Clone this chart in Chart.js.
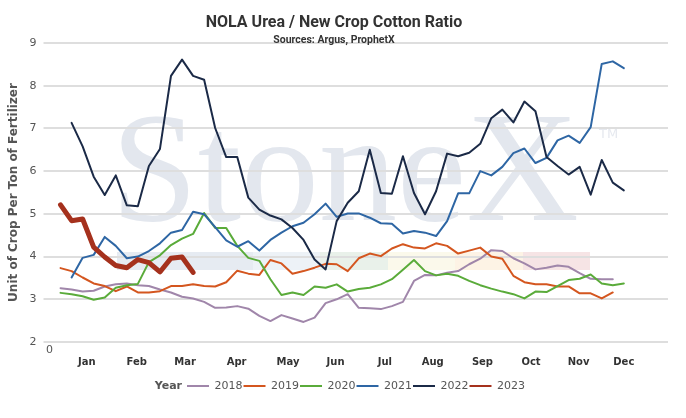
<!DOCTYPE html>
<html>
<head>
<meta charset="utf-8">
<script src="https://cdn.jsdelivr.net/npm/chart.js@4.4.1/dist/chart.umd.min.js"></script>
<style>
html,body{margin:0;padding:0;background:#fff;}
#wrap{width:686px;height:418px;}
</style>
</head>
<body>
<div id="wrap"><canvas id="c" width="686" height="418"></canvas></div>
<script>
// ---------- data ----------
const weeks = [1,2,3,4,5,6,7,8,9,10,11,12,13,14,15,16,17,18,19,20,21,22,23,24,25,26,
               27,28,29,30,31,32,33,34,35,36,37,38,39,40,41,42,43,44,45,46,47,48,49,50,51,52];
const monthLabels = ['Jan','Feb','Mar','Apr','May','Jun','Jul','Aug','Sep','Oct','Nov','Dec'];
const monthTickWeeks = [3.37, 7.89, 12.27, 16.94, 21.6, 25.9, 30.36, 34.7, 39.2, 43.6, 47.9, 52.0];
const yearLabels = ['2018','2019','2020','2021','2022','2023'];

const y2018 = [3.26,3.23,3.18,3.20,3.30,3.35,3.37,3.33,3.31,3.23,3.16,3.06,3.02,2.94,2.80,2.81,2.84,2.78,2.61,2.49,
               2.63,2.55,2.47,2.57,2.91,3.00,3.12,2.80,2.79,2.77,2.84,2.94,3.43,3.57,3.56,3.62,3.66,3.82,3.95,4.15,
               4.13,3.96,3.84,3.70,3.74,3.79,3.76,3.61,3.48,3.47,3.47,null];
const y2019 = [3.73,3.66,3.51,3.37,3.31,3.19,3.30,3.16,3.16,3.19,3.31,3.31,3.35,3.31,3.30,3.40,3.67,3.60,3.57,3.92,
               3.84,3.60,3.66,3.74,3.83,3.82,3.66,3.96,4.07,4.01,4.19,4.29,4.21,4.19,4.31,4.25,4.07,4.14,4.21,4.00,
               3.95,3.55,3.40,3.35,3.35,3.30,3.30,3.14,3.14,3.02,3.16,null];
const y2020 = [3.15,3.12,3.07,2.99,3.04,3.27,3.33,3.36,3.87,4.03,4.27,4.42,4.53,5.02,4.67,4.67,4.25,3.97,3.90,3.47,
               3.10,3.16,3.10,3.30,3.27,3.35,3.18,3.24,3.27,3.35,3.47,3.69,3.92,3.66,3.56,3.60,3.55,3.43,3.33,3.25,
               3.18,3.12,3.02,3.18,3.17,3.31,3.45,3.48,3.58,3.37,3.33,3.37];
const y2021 = [null,3.51,3.97,4.04,4.46,4.25,3.96,4.00,4.13,4.31,4.56,4.62,5.05,4.99,4.69,4.38,4.23,4.36,4.14,4.39,
               4.56,4.71,4.79,4.99,5.24,4.93,5.01,5.01,4.91,4.78,4.77,4.54,4.60,4.56,4.48,4.83,5.48,5.48,6.00,5.90,
               6.10,6.42,6.53,6.19,6.31,6.72,6.83,6.66,7.03,8.51,8.57,8.41];
const y2022 = [null,7.13,6.58,5.87,5.44,5.90,5.20,5.18,6.12,6.52,8.23,8.61,8.23,8.14,7.01,6.33,6.33,5.38,5.10,4.96,
               4.87,4.67,4.39,3.93,3.70,4.83,5.26,5.53,6.50,5.49,5.47,6.35,5.49,4.99,5.53,6.41,6.35,6.43,6.64,7.24,
               7.44,7.14,7.63,7.40,6.33,6.12,5.92,6.10,5.45,6.26,5.73,5.55];
const y2023 = [5.21,4.84,4.88,4.22,3.99,3.79,3.74,3.93,3.86,3.64,3.96,3.99,3.63];

const seriesValues = [y2018, y2019, y2020, y2021, y2022, y2023];
const seriesColors = ['#a086aa','#d4561f','#5aab3a','#2e66a4','#1b2a47','#a5311d'];
const seriesWidths = [2, 2, 2, 2, 2, 5];

// ---------- chart ----------
Chart.defaults.font.family = '"DejaVu Sans", sans-serif';
Chart.defaults.color = '#555';

const datasets = yearLabels.map((lbl, i) => ({
  label: lbl,
  data: seriesValues[i].map((v, k) => ({x: weeks[k], y: v})),
  borderColor: seriesColors[i],
  backgroundColor: seriesColors[i],
  borderWidth: seriesWidths[i],
  pointRadius: 0,
  tension: 0,
  spanGaps: false,
  borderJoinStyle: 'round',
  borderCapStyle: 'round',
  order: yearLabels.length - i
}));

const decor = {
  id: 'decor',
  beforeDraw(chart) {
    const ctx = chart.ctx;
    ctx.save();
    ctx.fillStyle = '#fff';
    ctx.fillRect(0, 0, chart.width, chart.height);
    const segs = [[117,253,'#e6ebf2'],[253,320,'#edf2f7'],[320,388,'#e9f1ea'],
                  [388,455,'#fbf9eb'],[455,523,'#fdf3e5'],[523,590,'#f6e4e5']];
    segs.forEach(s => { ctx.fillStyle = s[2]; ctx.fillRect(s[0], 252, s[1] - s[0], 18); });
    ctx.fillStyle = '#e3e7ee';
    ctx.font = '156px "Liberation Serif", serif';
    ctx.textBaseline = 'alphabetic';
    ctx.textAlign = 'left';
    ctx.fillText('StoneX', 111, 220);
    ctx.fillStyle = '#e6e9ef';
    ctx.font = '13px "DejaVu Sans", sans-serif';
    ctx.fillText('TM', 599, 138);
    ctx.restore();
  },
  afterLayout(chart) {
    const lg = chart.legend;
    if (lg) { lg.left += 22; lg.right += 22; }
  },
  afterDraw(chart) {
    const lg = chart.legend;
    if (!lg || !lg.legendHitBoxes || !lg.legendHitBoxes.length) return;
    const hb = lg.legendHitBoxes[0];
    const ctx = chart.ctx;
    ctx.save();
    ctx.font = 'bold 11px "DejaVu Sans", sans-serif';
    ctx.fillStyle = '#555';
    ctx.textAlign = 'right';
    ctx.textBaseline = 'middle';
    ctx.fillText('Year', hb.left - 5, hb.top + hb.height / 2);
    ctx.restore();
  }
};

new Chart(document.getElementById('c'), {
  type: 'line',
  data: { datasets },
  plugins: [decor],
  options: {
    responsive: false,
    animation: false,
    layout: { padding: { left: 0, right: 18, top: 0, bottom: 16.5 } },
    plugins: {
      title: {
        display: true,
        text: 'NOLA Urea / New Crop Cotton Ratio',
        color: '#333',
        font: { family: 'Roboto', size: 16, weight: 'bold', lineHeight: 1.2 },
        padding: { top: 13, bottom: 1.5 }
      },
      subtitle: {
        display: true,
        text: 'Sources: Argus, ProphetX',
        color: '#333',
        font: { family: 'Roboto', size: 10.5, weight: 'bold', lineHeight: 1.2 },
        padding: { top: 0, bottom: -3.3 }
      },
      legend: {
        display: true,
        position: 'bottom',
        labels: {
          boxWidth: 22,
          boxHeight: 2,
          padding: 1,
          color: '#555',
          font: { size: 11 },
          generateLabels: (chart) => chart.data.datasets.map((ds, i) => ({
            text: ds.label,
            fillStyle: ds.borderColor,
            strokeStyle: ds.borderColor,
            lineWidth: 0,
            hidden: false,
            datasetIndex: i,
            fontColor: '#555'
          }))
        }
      },
      tooltip: { enabled: false }
    },
    scales: {
      x: {
        type: 'linear',
        position: 'bottom',
        min: 0,
        max: 56,
        grid: { display: false, drawTicks: false },
        border: { display: false },
        afterBuildTicks: (s) => { s.ticks = [{ value: 0 }]; },
        afterFit: (s) => { s.height = 14; },
        ticks: { padding: 3, color: '#555', font: { size: 11, lineHeight: 1 }, maxRotation: 0 }
      },
      x2: {
        type: 'linear',
        position: 'bottom',
        min: 0,
        max: 56,
        grid: { display: false, drawTicks: false },
        border: { display: false },
        afterBuildTicks: (s) => { s.ticks = monthTickWeeks.map(v => ({ value: v })); },
        afterFit: (s) => { s.height = 23.5; },
        ticks: {
          padding: 0,
          autoSkip: false,
          maxRotation: 0,
          minRotation: 0,
          color: '#333',
          font: { size: 10, weight: 'bold', lineHeight: 1.2 },
          callback: (v, i) => monthLabels[i]
        }
      },
      y: {
        min: 2,
        max: 9,
        grid: { color: '#dedede', lineWidth: 2, drawTicks: true, tickLength: 6 },
        border: { display: false },
        afterFit: (s) => { s.width = 49.5; },
        ticks: { stepSize: 1, padding: 7, color: '#555', font: { size: 11 } },
        title: {
          display: true,
          text: 'Unit of Crop Per Ton of Fertilizer',
          color: '#555',
          font: { size: 12, weight: 'bold', lineHeight: 1.2 },
          padding: { top: 7, bottom: 0 }
        }
      }
    }
  }
});
</script>
</body>
</html>
